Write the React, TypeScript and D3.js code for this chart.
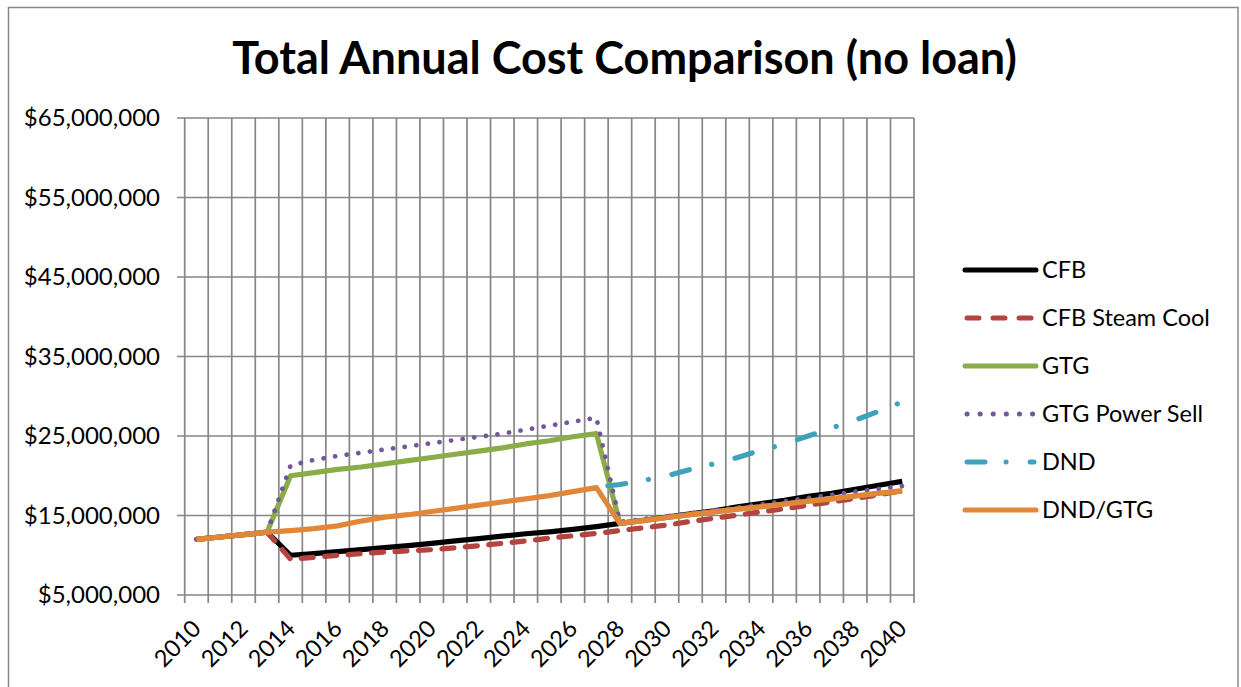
import React from "react";
import * as d3 from "d3";

// categories (years)
const years = [
  2010, 2011, 2012, 2013, 2014, 2015, 2016, 2017, 2018, 2019, 2020, 2021, 2022, 2023, 2024, 2025,
  2026, 2027, 2028, 2029, 2030, 2031, 2032, 2033, 2034, 2035, 2036, 2037, 2038, 2039, 2040,
];

// values in millions of dollars
const cfb = [
  12.0, 12.3, 12.6, 12.9, 10.0, 10.2, 10.45, 10.7, 10.95, 11.2, 11.5, 11.8, 12.1, 12.4, 12.7, 12.95,
  13.25, 13.6, 14.0, 14.4, 14.8, 15.2, 15.6, 16.1, 16.5, 16.9, 17.4, 17.8, 18.3, 18.8, 19.3,
];
const cfbSteamCool = [
  12.0, 12.3, 12.6, 12.9, 9.5, 9.75, 10.0, 10.2, 10.4, 10.55, 10.7, 10.95, 11.2, 11.5, 11.8, 12.15,
  12.45, 12.75, 13.1, 13.45, 13.8, 14.25, 14.65, 15.05, 15.45, 15.85, 16.3, 16.7, 17.15, 17.6, 18.1,
];
const gtg = [
  12.0, 12.3, 12.6, 12.9, 20.0, 20.4, 20.8, 21.1, 21.5, 21.9, 22.3, 22.7, 23.1, 23.5, 24.0, 24.4,
  24.9, 25.3, 14.0, 14.35, 14.75, 15.1, 15.45, 15.8, 16.1, 16.45, 16.8, 17.1, 17.45, 17.8, 18.1,
];
const gtgPowerSell = [
  12.0, 12.3, 12.6, 12.9, 21.3, 22.0, 22.5, 22.9, 23.3, 23.7, 24.1, 24.5, 24.9, 25.3, 25.8, 26.3,
  26.8, 27.3, 14.2, 14.55, 14.9, 15.3, 15.65, 16.0, 16.4, 16.8, 17.2, 17.6, 18.0, 18.35, 18.7,
];
const dnd = [
  null, null, null, null, null, null, null, null, null, null, null, null, null, null, null, null,
  null, 18.6, 18.9, 19.4, 20.0, 20.8, 21.5, 22.3, 23.2, 24.0, 25.0, 26.0, 27.0, 28.1, 29.3,
];
const dndGtg = [
  12.0, 12.3, 12.6, 12.9, 13.1, 13.35, 13.7, 14.3, 14.8, 15.1, 15.5, 15.9, 16.3, 16.7, 17.1, 17.5,
  18.0, 18.5, 14.0, 14.35, 14.75, 15.1, 15.45, 15.8, 16.1, 16.45, 16.8, 17.1, 17.45, 17.8, 18.1,
];

const yTicks = [5, 15, 25, 35, 45, 55, 65];
const xLabels = [2010, 2012, 2014, 2016, 2018, 2020, 2022, 2024, 2026, 2028, 2030, 2032, 2034, 2036, 2038, 2040];

const series = [
  { name: "CFB", values: cfb, color: "#000000", dash: null, legendDash: null, offset: 0 },
  { name: "CFB Steam Cool", values: cfbSteamCool, color: "#B3443F", dash: "12 11.5", legendDash: "12 14", offset: 0 },
  { name: "GTG", values: gtg, color: "#8AAD4A", dash: null, legendDash: null, offset: 0 },
  { name: "GTG Power Sell", values: gtgPowerSell, color: "#74579A", dash: "0.1 11.6", legendDash: "0.1 13", offset: 0 },
  { name: "DND", values: dnd, color: "#3DA2BC", dash: "18 23 0.1 24", legendDash: "18 21 0.1 24", offset: 53.6 },
  { name: "DND/GTG", values: dndGtg, color: "#E2873A", dash: null, legendDash: null, offset: 0 },
];

const W = 1241;
const H = 687;
const font = "Lato, 'Open Sans', sans-serif";

export default function App() {
  // plot area
  const left = 184.7;
  const right = 914;
  const top = 118;
  const bottom = 595;

  const x = d3.scaleBand<number>().domain(years).range([left, right]).padding(0);
  const y = d3.scaleLinear().domain([5, 65]).range([bottom, top]);
  const cx = (yr: number) => (x(yr) as number) + x.bandwidth() / 2;

  // gridlines sit on the category boundaries
  const bounds = years.map((yr) => x(yr) as number).concat([right]);

  const line = d3
    .line<number | null>()
    .defined((d) => d !== null)
    .x((_, i) => cx(years[i]))
    .y((d) => y(d as number));

  const money = d3.format("$,");

  return (
    <svg
      width={W}
      height={H}
      style={{ position: "absolute", left: 0, top: 0, background: "#fff" }}
      fontFamily={font}
    >
      <rect x={8.5} y={7.5} width={1229.5} height={700} fill="#fff" stroke="#888" strokeWidth={1.5} />

      <text x={624.5} y={74} textAnchor="middle" fontSize={45} fontWeight="bold" fill="#000">
        Total Annual Cost Comparison (no loan)
      </text>

      {/* horizontal gridlines */}
      {yTicks.map((t) => (
        <line key={"h" + t} x1={177} x2={right} y1={y(t)} y2={y(t)} stroke="#868686" strokeWidth={1.7} />
      ))}
      {/* vertical gridlines + ticks */}
      {bounds.map((b, i) => (
        <line key={"v" + i} x1={b} x2={b} y1={top} y2={bottom + 8} stroke="#868686" strokeWidth={1.7} />
      ))}

      {/* y labels */}
      {yTicks.map((t) => (
        <text key={"yl" + t} x={160} y={y(t)} dy="0.35em" textAnchor="end" fontSize={24} fill="#000">
          {money(t * 1e6)}
        </text>
      ))}

      {/* x labels */}
      {xLabels.map((yr) => (
        <text
          key={"xl" + yr}
          transform={`translate(${cx(yr) + 6},${630}) rotate(-45)`}
          textAnchor="end"
          fontSize={23.5}
          fill="#000"
        >
          {yr}
        </text>
      ))}

      {/* series */}
      {series.map((s) => (
        <path
          key={s.name}
          d={line(s.values) || ""}
          fill="none"
          stroke={s.color}
          strokeWidth={s.name === "GTG Power Sell" ? 4.7 : 5.2}
          strokeLinecap={s.dash ? "round" : "butt"}
          strokeLinejoin="round"
          strokeDasharray={s.dash || undefined}
          strokeDashoffset={s.offset}
        />
      ))}

      {/* legend */}
      {series.map((s, i) => {
        const ly = 270 + i * 48;
        return (
          <g key={"lg" + s.name}>
            <line
              x1={s.dash ? 967 : 965}
              x2={s.dash ? 1034 : 1036}
              y1={ly}
              y2={ly}
              stroke={s.color}
              strokeWidth={5}
              strokeLinecap="round"
              strokeDasharray={s.legendDash || undefined}
            />
            <text x={1042} y={ly} dy="0.36em" fontSize={23.5} fill="#000">
              {s.name}
            </text>
          </g>
        );
      })}
    </svg>
  );
}
